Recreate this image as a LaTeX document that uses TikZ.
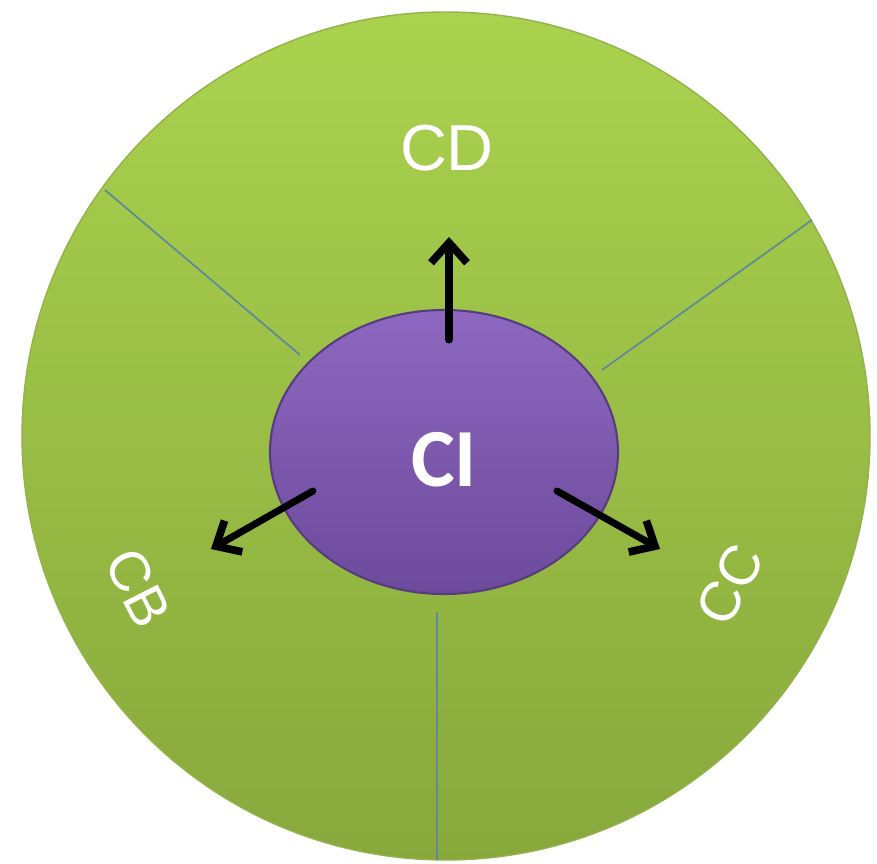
\documentclass[tikz,border=0pt]{standalone}
\usepackage{fontspec}
\setmainfont{Liberation Sans}
\newfontfamily\cifont{Carlito}
\usepackage{tikz}
\usetikzlibrary{shapes.geometric,arrows.meta,calc}

\definecolor{disctop}{RGB}{170,210,78}
\definecolor{discbot}{RGB}{136,168,60}
\definecolor{disclin}{RGB}{146,178,74}
\definecolor{coretop}{RGB}{142,104,192}
\definecolor{corebot}{RGB}{108,74,156}
\definecolor{corelin}{RGB}{88,60,128}
\definecolor{divider}{RGB}{96,138,150}

\begin{document}
\begin{tikzpicture}[
    divline/.style={draw=divider, line width=0.5pt},
    outarrow/.style={line width=2pt, line cap=round, -{Straight Barb[length=2mm, width=3.6mm, line width=2.2pt]}},
    seglabel/.style={text=white, font=\fontsize{16}{18}\selectfont, inner sep=0pt}
  ]
    \useasboundingbox (0,0) rectangle (8.77,-8.64);

    \shade[top color=disctop, bottom color=discbot, draw=disclin, line width=0.4pt] (4.46,-4.36) circle (4.24);

    \draw[divline] (1.05,-1.90) -- (3.00,-3.55);
    \draw[divline] (8.12,-2.20) -- (6.02,-3.70);
    \draw[divline] (4.37,-6.12) -- (4.37,-8.60);

    \node[ellipse, minimum width=3.48cm, minimum height=2.84cm, inner sep=0pt,
          top color=coretop, bottom color=corebot, draw=corelin, line width=0.6pt] (ci) at (4.44,-4.52) {};
    \node[text=white, font=\cifont\bfseries\fontsize{23.5}{25}\selectfont, inner sep=0pt] (citext) at ([yshift=-0.08cm]ci.center) {CI};

    \node[text=white, font=\fontsize{18.5}{20}\selectfont, inner sep=0pt] (cd) at (4.47,-1.48) {CD};
    \node[seglabel, rotate=-63] (cb) at (1.38,-5.88) {CB};
    \node[seglabel, rotate=63] (cc) at (7.30,-5.85) {CC};

    \coordinate (up-start) at (4.49,-3.40);
    \coordinate (up-tip) at (4.49,-2.37);
    \coordinate (left-start) at (3.13,-4.91);
    \coordinate (left-tip) at (2.11,-5.49);
    \coordinate (right-start) at (5.57,-4.91);
    \coordinate (right-tip) at (6.60,-5.49);

    \draw[outarrow] (up-start) -- (up-tip);
    \draw[outarrow] (left-start) -- (left-tip);
    \draw[outarrow] (right-start) -- (right-tip);
  \end{tikzpicture}
\end{document}
